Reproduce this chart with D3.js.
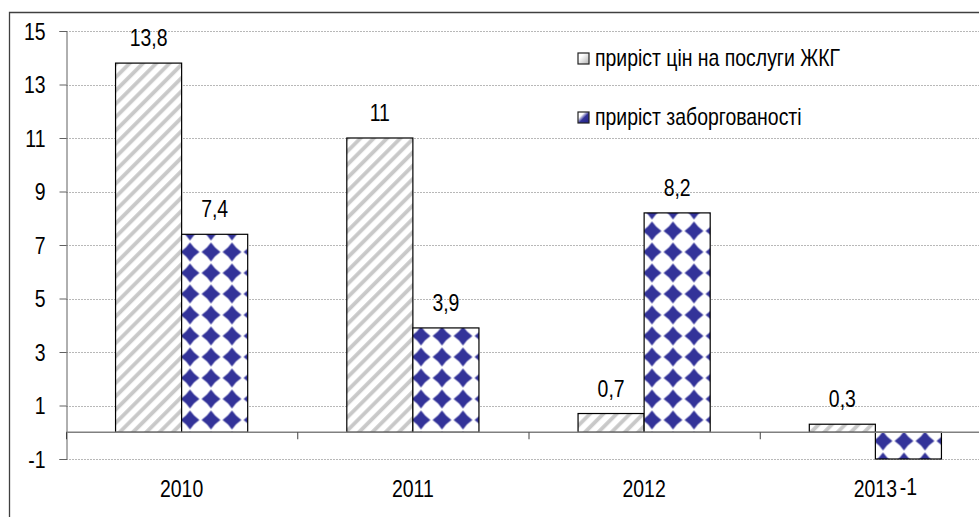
<!DOCTYPE html>
<html>
<head>
<meta charset="utf-8">
<script src="https://cdn.jsdelivr.net/npm/d3@7"></script>
<style>
  body { margin: 0; background: #fff; }
  svg text { font-family: "Liberation Sans", Arial, sans-serif; fill: #000; }
</style>
</head>
<body>
<div class="chart"></div>
<script>
/*----------------------------data----------------------------*/
const categories = ["2010", "2011", "2012", "2013"];
const seriesNames = ["приріст цін на послуги ЖКГ", "приріст заборгованості"];
const priceGrowth = [13.8, 11, 0.7, 0.3];
const debtGrowth = [7.4, 3.9, 8.2, -1];
const yTicks = [-1, 1, 3, 5, 7, 9, 11, 13, 15];

const size = { width: 979, height: 517 };
const plot = { left: 66, right: 991, top: 31, bottom: 459 };
const fontSize = "23px";
const squeeze = 0.845;

// narrow text like the original (Arial Narrow look)
const narrow = (sel, fx, fy) => sel
    .attr("transform", (d, i) => `translate(${fx(d, i)},${fy(d, i)}) scale(${squeeze},1)`)
    .attr("x", 0).attr("y", 0)
    .style("font-size", fontSize);

const svg = d3.select(".chart").append("svg")
    .attr("width", size.width)
    .attr("height", size.height);

/*----------------------------patterns----------------------------*/
const defs = svg.append("defs");

const hatch = defs.append("pattern")
    .attr("id", "hatch")
    .attr("patternUnits", "userSpaceOnUse")
    .attr("width", 9.4).attr("height", 9.4)
    .attr("patternTransform", "rotate(-45)");
hatch.append("rect").attr("width", 9.4).attr("height", 9.4).attr("fill", "#fff");
hatch.append("rect").attr("y", 3).attr("width", 9.4).attr("height", 3.8).attr("fill", "#c8c8c8");

const dia = 21;
const diamonds = defs.append("pattern")
    .attr("id", "diamonds")
    .attr("patternUnits", "userSpaceOnUse")
    .attr("x", 190 - dia / 2).attr("y", 252 - dia / 2)
    .attr("width", dia).attr("height", dia);
diamonds.append("rect").attr("width", dia).attr("height", dia).attr("fill", "#fff");
const c = dia / 2, r = 9.4, k = 3.8;
diamonds.append("path")
    .attr("d", `M${c},${c - r} Q${c + k},${c - k} ${c + r},${c} Q${c + k},${c + k} ${c},${c + r} Q${c - k},${c + k} ${c - r},${c} Q${c - k},${c - k} ${c},${c - r}Z`)
    .attr("fill", "#333399");

const g1 = defs.append("linearGradient").attr("id", "legGray")
    .attr("x1", "0").attr("y1", "0").attr("x2", "1").attr("y2", "1");
g1.append("stop").attr("offset", "0.3").attr("stop-color", "#fff");
g1.append("stop").attr("offset", "1").attr("stop-color", "#b0b0b0");
const g2 = defs.append("linearGradient").attr("id", "legBlue")
    .attr("x1", "0").attr("y1", "0").attr("x2", "1").attr("y2", "1");
g2.append("stop").attr("offset", "0.3").attr("stop-color", "#fff");
g2.append("stop").attr("offset", "0.55").attr("stop-color", "#333399");
g2.append("stop").attr("offset", "1").attr("stop-color", "#222288");

/*----------------------------scales----------------------------*/
const x = d3.scaleBand().domain(categories).range([plot.left, plot.right]);
// gap width 150% -> bar = band / 3.5
const barW = x.bandwidth() / 3.5;
const y = d3.scaleLinear().domain([-1, 15]).range([plot.bottom, plot.top]);

// frame
svg.append("path")
    .attr("d", `M9.5,${size.height} V12.5 H${size.width}`)
    .attr("fill", "none").attr("stroke", "#404040").attr("stroke-width", 1.3);

// grid
svg.append("g").selectAll("line")
    .data(yTicks)
    .enter().append("line")
    .attr("x1", plot.left).attr("x2", size.width)
    .attr("y1", d => Math.round(y(d)) + 0.5).attr("y2", d => Math.round(y(d)) + 0.5)
    .attr("stroke", "#b8b8b8").attr("stroke-dasharray", "2,1");

// y axis
const yAxis = d3.axisLeft(y).tickValues(yTicks).tickSize(7).tickFormat(d => String(d));
const yg = svg.append("g").attr("transform", `translate(${plot.left + 0.5},0)`).call(yAxis);
yg.select(".domain").attr("stroke", "#606060");
yg.selectAll(".tick line").attr("stroke", "#606060");
narrow(yg.selectAll(".tick text"), () => -21, () => 0)
    .attr("dy", "0.35em")
    .attr("fill", "#000");

/*----------------------------bars----------------------------*/
const series = [
    { name: seriesNames[0], values: priceGrowth, fill: "url(#hatch)" },
    { name: seriesNames[1], values: debtGrowth, fill: "url(#diamonds)" }
];

series.forEach((s, si) => {
    const grp = svg.append("g");
    grp.selectAll("rect")
        .data(s.values)
        .enter().append("rect")
        .attr("x", (d, i) => x(categories[i]) + barW * (0.75 + si))
        .attr("y", d => y(Math.max(0, d)))
        .attr("width", barW)
        .attr("height", d => Math.abs(y(d) - y(0)))
        .attr("fill", s.fill)
        .attr("stroke", "#000").attr("stroke-width", 1.2);

    narrow(grp.selectAll("text")
        .data(s.values)
        .enter().append("text")
        .attr("text-anchor", "middle")
        .text(d => String(d).replace(".", ",")),
        (d, i) => x(categories[i]) + barW * (1.25 + si),
        d => d >= 0 ? y(d) - 17 : y(d) + 36);
});

// zero line + category ticks
svg.append("line")
    .attr("x1", plot.left).attr("x2", size.width)
    .attr("y1", y(0)).attr("y2", y(0))
    .attr("stroke", "#808080").attr("stroke-width", 1.5);
svg.append("g").selectAll("line")
    .data(categories)
    .enter().append("line")
    .attr("x1", d => x(d) + 0.5).attr("x2", d => x(d) + 0.5)
    .attr("y1", y(0)).attr("y2", y(0) + 7)
    .attr("stroke", "#404040");

// category labels
narrow(svg.append("g").selectAll("text")
    .data(categories)
    .enter().append("text")
    .attr("text-anchor", "middle")
    .text(d => d),
    d => x(d) + x.bandwidth() / 2, () => 497);

/*----------------------------legend----------------------------*/
const legend = svg.append("g").attr("transform", "translate(578,53)");
const legendFills = ["url(#legGray)", "url(#legBlue)"];
seriesNames.forEach((name, i) => {
    const item = legend.append("g").attr("transform", `translate(0,${i * 59})`);
    item.append("rect")
        .attr("width", 11).attr("height", 11)
        .attr("fill", legendFills[i])
        .attr("stroke", "#222").attr("stroke-width", 1.2);
    narrow(item.append("text").datum(name).text(name), () => 17, () => 13);
});
</script>
</body>
</html>
